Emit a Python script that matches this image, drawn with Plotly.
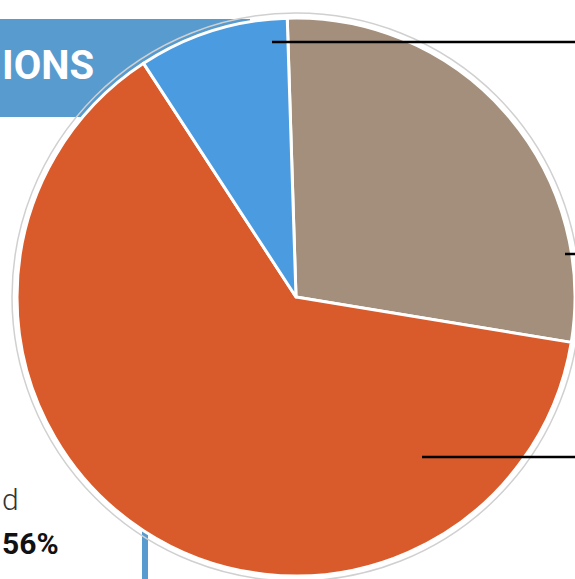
import plotly.graph_objects as go

W, H = 575, 579

labels = ["Brown", "Orange", "Blue"]
values = [28.1, 63.2, 8.7]
colors = ["#a38f7b", "#d95a2b", "#4a9be0"]

banner_text = "IONS"
side_label = "d"
side_value = "56%"

def px(x):
    return x / W

def py(y):
    return 1 - y / H

# pie geometry (pixels, top-left origin)
cx, cy, r = 296, 297, 279

fig = go.Figure()
fig.add_trace(go.Pie(
    labels=labels, values=values, sort=False, direction="clockwise",
    rotation=-1.8, textinfo="none", hoverinfo="label+percent",
    marker=dict(colors=colors, line=dict(color="white", width=3)),
    domain=dict(x=[px(cx - r), px(cx + r)], y=[py(cy + r), py(cy - r)]),
    showlegend=False,
))

shapes = [
    # banner
    dict(type="rect", xref="paper", yref="paper", x0=0, x1=px(250), y0=py(117), y1=py(19),
         fillcolor="#579bcf", line=dict(width=0), layer="below"),
    # vertical bar
    dict(type="rect", xref="paper", yref="paper", x0=px(142), x1=px(148), y0=0, y1=py(500),
         fillcolor="#579bcf", line=dict(width=0), layer="below"),
    # outer ring
    dict(type="circle", xref="paper", yref="paper", x0=px(cx - r - 5), x1=px(cx + r + 5),
         y0=py(cy + r + 5), y1=py(cy - r - 5), line=dict(color="#d0d0d0", width=1.5),
         fillcolor="rgba(0,0,0,0)", layer="below"),
    # leader lines
    dict(type="line", xref="paper", yref="paper", x0=px(272), x1=1, y0=py(42), y1=py(42),
         line=dict(color="black", width=2.5)),
    dict(type="line", xref="paper", yref="paper", x0=px(565), x1=1, y0=py(254), y1=py(254),
         line=dict(color="black", width=2.5)),
    dict(type="line", xref="paper", yref="paper", x0=px(422), x1=1, y0=py(457), y1=py(457),
         line=dict(color="black", width=2.5)),
]

annotations = [
    dict(text=banner_text, xref="paper", yref="paper", x=px(0), y=py(66), xanchor="left",
         yanchor="middle", showarrow=False,
         font=dict(family="Roboto, sans-serif", size=40, color="white", weight="bold")),
    dict(text=side_label, xref="paper", yref="paper", x=px(0), y=py(499), xanchor="left",
         yanchor="middle", showarrow=False,
         font=dict(family="Roboto, sans-serif", size=30, color="#333333", weight=300)),
    dict(text=side_value, xref="paper", yref="paper", x=px(0), y=py(543), xanchor="left",
         yanchor="middle", showarrow=False,
         font=dict(family="Roboto, sans-serif", size=30, color="#111111", weight="bold")),
]

fig.update_layout(
    width=W, height=H, margin=dict(l=0, r=0, t=0, b=0),
    paper_bgcolor="white", plot_bgcolor="white",
    shapes=shapes, annotations=annotations,
)

fig.write_html("out.html", config={"displayModeBar": False},
               post_script="document.body.style.margin='0';")
